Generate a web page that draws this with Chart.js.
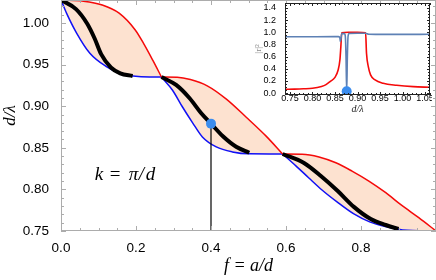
<!DOCTYPE html>
<html>
<head>
<meta charset="utf-8">
<script src="https://cdn.jsdelivr.net/npm/chart.js@4.4.0/dist/chart.umd.min.js"></script>
<style>
  html, body { margin: 0; padding: 0; background: #fff; }
  #wrap { position: relative; width: 436px; height: 280px; }
  #main { position: absolute; left: 0; top: 0; }
  #inset { position: absolute; left: 246px; top: 0; }
</style>
</head>
<body>
<div id="wrap">
  <canvas id="main" width="436" height="280"></canvas>
  <canvas id="inset" width="186" height="116"></canvas>
</div>
<script>
// main plot: d/lambda against filling fraction f, three folded bands
const fTicks = [0, 0.2, 0.4, 0.6, 0.8];
const vTicks = [0.75, 0.80, 0.85, 0.90, 0.95, 1.00];

const fRed1 = [0, 0.06, 0.11, 0.155, 0.198, 0.222, 0.245, 0.268];
const vRed1 = [1.0276, 1.0262, 1.0216, 1.0118, 0.9916, 0.974, 0.955, 0.935];
const fBlue1 = [0, 0.015, 0.042, 0.077, 0.121, 0.157, 0.192, 0.236, 0.268];
const vBlue1 = [1.0276, 1.0116, 0.9876, 0.9636, 0.9475, 0.9395, 0.9363, 0.935, 0.935];
const fBlack1 = [0, 0.04, 0.07, 0.09, 0.107, 0.133, 0.158, 0.191];
const vBlack1 = [1.0276, 1.0166, 0.999, 0.981, 0.9625, 0.9465, 0.9395, 0.9363];

const fRed2 = [0.268, 0.31, 0.345, 0.39, 0.441, 0.494, 0.547, 0.591];
const vRed2 = [0.935, 0.9348, 0.932, 0.9245, 0.9085, 0.8867, 0.864, 0.8425];
const fBlue2 = [0.268, 0.297, 0.324, 0.351, 0.377, 0.414, 0.457, 0.502, 0.591];
const vBlue2 = [0.935, 0.9195, 0.899, 0.880, 0.863, 0.851, 0.845, 0.8427, 0.8425];
const fBlack2 = [0.268, 0.307, 0.343, 0.374, 0.400, 0.431, 0.467, 0.502];
const vBlack2 = [0.935, 0.9255, 0.9095, 0.8915, 0.879, 0.8642, 0.8513, 0.8441];

const fRed3 = [0.591, 0.643, 0.688, 0.733, 0.776, 0.821, 0.866, 0.908, 0.954, 1.0];
const vRed3 = [0.8425, 0.8423, 0.839, 0.832, 0.822, 0.81, 0.796, 0.781, 0.766, 0.75];
const fBlue3 = [0.591, 0.627, 0.661, 0.696, 0.736, 0.781, 0.823, 0.869, 0.911, 1.0];
const vBlue3 = [0.8425, 0.828, 0.8137, 0.7993, 0.785, 0.7705, 0.761, 0.755, 0.7512, 0.75];
const fBlack3 = [0.591, 0.648, 0.693, 0.738, 0.781, 0.826, 0.866, 0.900];
const vBlack3 = [0.8425, 0.8317, 0.816, 0.798, 0.779, 0.7644, 0.7572, 0.7524];

const markF = 0.4, markV = 0.879;
const kAt = [0.09, 0.811];

// inset: |r|^2 against d/lambda at f = 0.4
const inXTicks = [0.75, 0.80, 0.85, 0.90, 0.95, 1.00, 1.05];
const inYTicks = [0, 0.2, 0.4, 0.6, 0.8, 1.0, 1.2, 1.4];
const dRed = [0.739, 0.76, 0.78, 0.80, 0.82, 0.83, 0.839, 0.85, 0.857, 0.861, 0.863, 0.865, 0.88, 0.90, 0.918, 0.92, 0.924, 0.929, 0.939, 0.957, 0.987, 1.024, 1.061];
const rRed = [0.064, 0.067, 0.072, 0.08, 0.11, 0.14, 0.19, 0.26, 0.38, 0.55, 0.76, 0.99, 1.0, 1.0, 0.99, 0.655, 0.435, 0.30, 0.217, 0.163, 0.13, 0.107, 0.097];
const dBlue = [0.739, 0.80, 0.85, 0.858, 0.861, 0.862, 0.8635, 0.865, 0.871, 0.873, 0.8745, 0.876, 0.8775, 0.879, 0.881, 0.90, 0.918, 0.925, 0.94, 1.0, 1.061];
const rBlue = [0.925, 0.927, 0.928, 0.928, 0.9, 0.85, 0.9, 0.978, 0.98, 0.93, 0.6, 0.03, 0.6, 0.93, 0.98, 0.983, 0.983, 0.967, 0.965, 0.965, 0.966];
const gapFrom = 0.845, gapTo = 0.935;
const inMark = [0.876, 0.03];

const bandFill = '#fde2d0';
const redC = '#f50a0a', blueC = '#1010f5', dotC = '#3a8cee';

const pts = (xs, ys) => xs.map((x, i) => ({ x: x, y: ys[i] }));
const curve = (xs, ys, color, width, fill) => ({
  data: pts(xs, ys), borderColor: color, borderWidth: width, pointRadius: 0,
  cubicInterpolationMode: 'monotone', fill: fill || false, backgroundColor: bandFill
});

// inward ticks on all four sides, Mathematica frame style
function framePlugin(o) {
  return {
    id: 'frame',
    beforeDatasetsDraw(chart) {
      if (!o.bg) return;
      const a = chart.chartArea, ctx = chart.ctx;
      ctx.save(); ctx.fillStyle = o.bg;
      ctx.fillRect(a.left, a.top, a.right - a.left, a.bottom - a.top);
      ctx.restore();
    },
    afterDraw(chart) {
      const { ctx, chartArea: a } = chart;
      const xs = chart.scales.x, ys = chart.scales.y;
      ctx.save();
      ctx.strokeStyle = o.color;
      ctx.lineWidth = 1;
      ctx.strokeRect(a.left + 0.5, a.top + 0.5, a.right - a.left - 1, a.bottom - a.top - 1);
      ctx.beginPath();
      const marks = (s, step, major, horiz) => {
        const n0 = Math.ceil(s.min / step - 1e-6), n1 = Math.floor(s.max / step + 1e-6);
        for (let n = n0; n <= n1; n++) {
          const v = n * step;
          const l = major.some(m => Math.abs(m - v) < step / 10) ? o.len[0] : o.len[1];
          const p = Math.round(s.getPixelForValue(v)) + 0.5;
          if (horiz) {
            ctx.moveTo(p, a.bottom); ctx.lineTo(p, a.bottom - l);
            ctx.moveTo(p, a.top); ctx.lineTo(p, a.top + l);
          } else {
            ctx.moveTo(a.left, p); ctx.lineTo(a.left + l, p);
            ctx.moveTo(a.right, p); ctx.lineTo(a.right - l, p);
          }
        }
      };
      marks(xs, o.xMinor, o.xMajor, true);
      marks(ys, o.yMinor, o.yMajor, false);
      ctx.stroke();
      // inset x labels and axis titles, drawn here so they sit tight under the frame
      if (o.titles) {
        ctx.fillStyle = '#000';
        ctx.textAlign = 'center';
        ctx.textBaseline = 'middle';
        ctx.font = '9px "Liberation Sans"';
        o.xMajor.forEach(v => ctx.fillText(v.toFixed(2), xs.getPixelForValue(v), a.bottom + 4));
        ctx.fillStyle = '#222';
        ctx.font = 'italic 10px "Liberation Serif"';
        ctx.fillText(o.titles.x, (a.left + a.right) / 2, a.bottom + 14);
        ctx.save();
        ctx.translate(a.left - 26, (a.top + a.bottom) / 2);
        ctx.rotate(-Math.PI / 2);
        ctx.fillStyle = '#8a8a8a';
        ctx.font = '9px "Liberation Serif"';
        ctx.fillText(o.titles.y, 0, 0);
        ctx.restore();
      }
      ctx.restore();
    }
  };
}

const kLabel = {
  id: 'kLabel',
  afterDatasetsDraw(chart) {
    const { ctx, scales: { x, y } } = chart;
    const px = x.getPixelForValue(kAt[0]), py = y.getPixelForValue(kAt[1]);
    const parts = [['k', 0, true], ['=', 15, false], ['π', 34, true], ['/', 44, true], ['d', 51, true]];
    ctx.save();
    ctx.fillStyle = '#000';
    ctx.textBaseline = 'alphabetic';
    parts.forEach(([t, dx, it]) => {
      ctx.font = (it ? 'italic ' : '') + '19px "Liberation Serif"';
      ctx.fillText(t, px + dx, py);
    });
    ctx.restore();
  }
};

const tickFont = { family: '"Liberation Sans", Arial, sans-serif', size: 13.5 };
const serif = '"Liberation Serif", "DejaVu Serif", serif';
const fixTicks = list => s => { s.ticks = list.map(v => ({ value: v })); };
const noPad = s => { s.paddingTop = 0; s.paddingBottom = 0; s.paddingLeft = 0; s.paddingRight = 0; };

new Chart(document.getElementById('main'), {
  type: 'line',
  data: {
    datasets: [
      { data: [{ x: markF, y: markV }], pointRadius: 5, pointBackgroundColor: dotC, pointBorderWidth: 0, showLine: false },
      { data: [{ x: markF, y: vTicks[0] }, { x: markF, y: markV }], borderColor: '#000', borderWidth: 1.2, pointRadius: 0 },
      curve(fBlack1, vBlack1, '#000', 4),
      curve(fBlack2, vBlack2, '#000', 4),
      curve(fBlack3, vBlack3, '#000', 4),
      curve(fRed1, vRed1, redC, 1.5, '+1'),
      curve(fBlue1, vBlue1, blueC, 1.5),
      curve(fRed2, vRed2, redC, 1.5, '+1'),
      curve(fBlue2, vBlue2, blueC, 1.5),
      curve(fRed3, vRed3, redC, 1.5, '+1'),
      curve(fBlue3, vBlue3, blueC, 1.5)
    ]
  },
  options: {
    responsive: false, animation: false, devicePixelRatio: 1,
    layout: { autoPadding: false, padding: { top: 0, right: 0, bottom: 3, left: 0 } },
    plugins: { legend: { display: false }, tooltip: { enabled: false }, filler: { drawTime: 'beforeDatasetsDraw' } },
    scales: {
      x: {
        type: 'linear', min: 0, max: 1,
        grid: { display: false }, border: { display: false },
        afterBuildTicks: fixTicks(fTicks),
        afterFit: s => { s.height = 46; noPad(s); },
        ticks: { padding: 1, color: '#000', font: tickFont, maxRotation: 0, autoSkip: false, callback: v => v.toFixed(1) },
        title: { display: true, text: 'f = a/d', color: '#000', padding: 0, font: { family: serif, size: 18, style: 'italic' } }
      },
      y: {
        type: 'linear', min: 0.75, max: 1.0276,
        grid: { display: false }, border: { display: false },
        afterBuildTicks: fixTicks(vTicks),
        afterFit: s => { s.width = 61; noPad(s); },
        ticks: { padding: 4, color: '#000', font: tickFont, autoSkip: false, callback: v => v.toFixed(2) },
        title: { display: true, text: 'd/λ', color: '#000', padding: 0, font: { family: serif, size: 17, style: 'italic' } }
      }
    }
  },
  plugins: [framePlugin({ color: '#acacac', len: [5, 3], xMinor: 0.05, xMajor: fTicks.concat([1]), yMinor: 0.01, yMajor: vTicks }), kLabel]
});

const inFont = { family: '"Liberation Sans", Arial, sans-serif', size: 9 };
new Chart(document.getElementById('inset'), {
  type: 'line',
  data: {
    datasets: [
      { data: [{ x: inMark[0], y: inMark[1] }], pointRadius: 5, pointBackgroundColor: dotC, pointBorderWidth: 0, showLine: false },
      { data: pts(dBlue, rBlue), borderColor: '#5e81b5', borderWidth: 1.6, pointRadius: 0, cubicInterpolationMode: 'monotone', fill: false },
      { data: pts(dRed, rRed), borderColor: redC, borderWidth: 1.6, pointRadius: 0, cubicInterpolationMode: 'monotone', fill: false },
      {
        data: pts(dRed, rRed).filter(p => p.x >= gapFrom && p.x <= gapTo),
        borderWidth: 0, pointRadius: 0, cubicInterpolationMode: 'monotone', fill: 'start', backgroundColor: bandFill
      }
    ]
  },
  options: {
    responsive: false, animation: false, devicePixelRatio: 1,
    layout: { autoPadding: false, padding: { top: 3, right: 2, bottom: 2, left: 0 } },
    plugins: { legend: { display: false }, tooltip: { enabled: false }, filler: { drawTime: 'beforeDatasetsDraw' } },
    scales: {
      x: {
        type: 'linear', min: 0.739, max: 1.061,
        grid: { display: false }, border: { display: false },
        afterBuildTicks: fixTicks(inXTicks),
        afterFit: s => { s.height = 19; noPad(s); },
        ticks: { display: false }
      },
      y: {
        type: 'linear', min: -0.03, max: 1.48,
        grid: { display: false }, border: { display: false },
        afterBuildTicks: fixTicks(inYTicks),
        afterFit: s => { s.width = 39; noPad(s); },
        ticks: { padding: 1, color: '#000', font: inFont, autoSkip: false, callback: v => v.toFixed(1) }
      }
    }
  },
  plugins: [framePlugin({ color: '#222', bg: '#fff', len: [3, 2], xMinor: 0.01, xMajor: inXTicks, yMinor: 0.05, yMajor: inYTicks, titles: { x: 'd/λ', y: '|r|²' } })]
});
</script>
</body>
</html>
